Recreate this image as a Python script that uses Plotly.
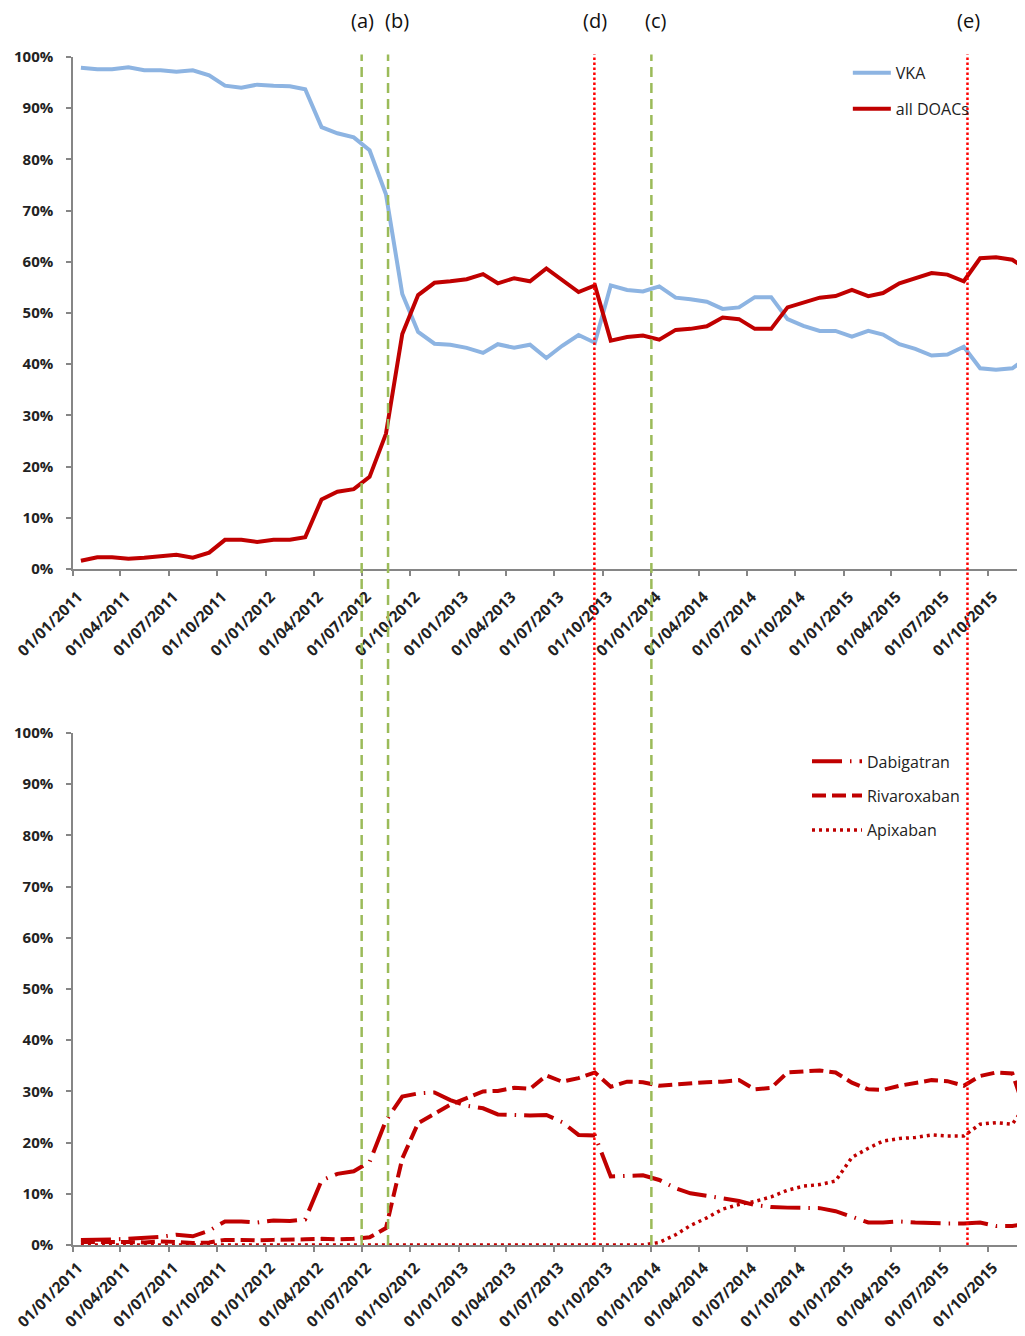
import pandas as pd
import plotly.graph_objects as go

# ---------------- data ----------------
month_starts = pd.date_range("2011-01-01", periods=60, freq="MS")
months = month_starts + pd.Timedelta(days=15)   # points sit mid-month

vka = [97.9, 97.6, 97.6, 98.0, 97.4, 97.4, 97.1, 97.4, 96.4, 94.4,
       94.0, 94.6, 94.4, 94.3, 93.7, 86.3, 85.1, 84.3, 81.8, 73.2,
       53.7, 46.3, 44.0, 43.8, 43.2, 42.2, 43.9, 43.2, 43.8, 41.2,
       43.6, 45.7, 44.2, 55.4, 54.5, 54.2, 55.2, 53.0, 52.7, 52.2,
       50.8, 51.1, 53.1, 53.1, 48.8, 47.5, 46.5, 46.5, 45.4, 46.5,
       45.8, 43.9, 43.0, 41.7, 41.9, 43.4, 39.2, 38.9, 39.2, 41.4]

doacs = [1.6, 2.3, 2.3, 2.0, 2.2, 2.6, 2.8, 2.2, 3.2, 5.7,
         5.7, 5.3, 5.7, 5.7, 6.2, 13.6, 15.1, 15.6, 18.0, 26.4,
         45.9, 53.5, 55.9, 56.2, 56.6, 57.6, 55.8, 56.8, 56.2, 58.7,
         56.4, 54.1, 55.4, 44.6, 45.3, 45.6, 44.8, 46.7, 46.9, 47.4,
         49.1, 48.8, 46.9, 46.9, 51.1, 52.1, 53.0, 53.3, 54.5, 53.3,
         53.9, 55.8, 56.7, 57.8, 57.5, 56.2, 60.7, 60.9, 60.4, 58.4]

dabigatran = [1.0, 1.0, 1.1, 1.2, 1.4, 1.6, 2.0, 1.7, 2.8, 4.6,
              4.6, 4.4, 4.8, 4.7, 5.0, 12.6, 13.9, 14.4, 16.2, 24.3,
              29.0, 29.6, 29.8, 28.3, 27.2, 26.7, 25.5, 25.3, 25.3, 25.4,
              24.0, 21.5, 21.4, 13.4, 13.5, 13.6, 12.7, 11.1, 10.1, 9.6,
              9.1, 8.6, 7.8, 7.4, 7.3, 7.2, 7.2, 6.6, 5.5, 4.4,
              4.4, 4.6, 4.4, 4.2, 4.2, 4.2, 4.4, 3.7, 3.7, 4.2]

rivaroxaban = [0.6, 0.6, 0.7, 0.6, 0.5, 0.7, 0.6, 0.4, 0.5, 1.0,
               1.0, 0.9, 1.0, 1.0, 1.1, 1.2, 1.1, 1.2, 1.5, 3.3,
               16.9, 23.8, 25.7, 27.4, 28.7, 30.0, 30.1, 30.7, 30.5, 33.1,
               31.9, 32.6, 33.7, 30.9, 31.9, 31.8, 31.1, 31.4, 31.5, 31.8,
               31.9, 32.2, 30.4, 30.7, 33.7, 33.9, 34.1, 33.7, 31.7, 30.4,
               30.3, 31.1, 31.7, 32.2, 32.0, 31.1, 33.0, 33.7, 33.5, 24.5]

apixaban = [0.0, 0.0, 0.0, 0.0, 0.0, 0.0, 0.0, 0.0, 0.0, 0.0,
            0.0, 0.0, 0.0, 0.0, 0.0, 0.0, 0.0, 0.0, 0.0, 0.0,
            0.0, 0.0, 0.0, 0.0, 0.0, 0.0, 0.0, 0.0, 0.0, 0.0,
            0.0, 0.0, 0.0, 0.0, 0.0, 0.0, 0.5, 2.0, 3.8, 5.3,
            7.0, 7.9, 8.5, 9.4, 10.7, 11.5, 11.8, 12.5, 17.1, 18.9,
            20.3, 20.8, 21.0, 21.5, 21.3, 21.3, 23.6, 23.9, 23.6, 28.0]

event_labels = ["(a)", "(b)", "(d)", "(c)", "(e)"]
event_dates = ["2012-07-01", "2012-08-20", "2013-09-15", "2014-01-01", "2015-08-23"]
event_kinds = ["green", "green", "red", "green", "red"]
label_shift = [1, 9, 1, 4, 1]

y_ticks = [0, 10, 20, 30, 40, 50, 60, 70, 80, 90, 100]
y_ticktext = ["0%", "10%", "20%", "30%", "40%", "50%", "60%", "70%", "80%", "90%", "100%"]
x_range = ["2011-01-01", "2015-12-10"]

# ---------------- styles ----------------
BLUE = "#8DB4E2"
DARKRED = "#C00000"
GREEN = "#9BBB59"
RED = "#FF0000"
AXIS = "#868686"
TXT = "#222222"

fig = go.Figure()

fig.add_trace(go.Scatter(x=months, y=vka, name="VKA", mode="lines",
                         line=dict(color=BLUE, width=4),
                         xaxis="x", yaxis="y", legend="legend", legendgroup="a"))
fig.add_trace(go.Scatter(x=months, y=doacs, name="all DOACs", mode="lines",
                         line=dict(color=DARKRED, width=4),
                         xaxis="x", yaxis="y", legend="legend", legendgroup="b"))

fig.add_trace(go.Scatter(x=months, y=dabigatran, name="Dabigatran", mode="lines",
                         line=dict(color=DARKRED, width=4, dash="30px,8px,1.5px,8px"),
                         xaxis="x2", yaxis="y2", legend="legend2", legendgroup="c"))
fig.add_trace(go.Scatter(x=months, y=rivaroxaban, name="Rivaroxaban", mode="lines",
                         line=dict(color=DARKRED, width=4, dash="14px,6px"),
                         xaxis="x2", yaxis="y2", legend="legend2", legendgroup="d"))
fig.add_trace(go.Scatter(x=months, y=apixaban, name="Apixaban", mode="lines",
                         line=dict(color=DARKRED, width=3.5, dash="3px,4px"),
                         xaxis="x2", yaxis="y2", legend="legend2", legendgroup="e"))

xtickfont = dict(family="Open Sans", size=15.5, color=TXT, weight="bold")
ytickfont = dict(family="Open Sans", size=15, color=TXT, weight="bold")

xaxis_common = dict(
    type="date", range=x_range, tick0="2011-01-01", dtick="M3",
    tickformat="%d/%m/%Y", tickangle=-45, tickfont=xtickfont,
    showline=True, linecolor=AXIS, linewidth=1.5,
    ticks="outside", ticklen=5, tickcolor=AXIS, tickwidth=1.5,
    showgrid=False, zeroline=False, ticklabelshift=5,
    ticklabeloverflow="allow", automargin=False,
)
yaxis_common = dict(
    range=[0, 100], tickvals=y_ticks, ticktext=y_ticktext, tickfont=ytickfont,
    showline=True, linecolor=AXIS, linewidth=1.5,
    ticks="outside", ticklen=5, tickcolor=AXIS, tickwidth=1.5,
    showgrid=False, zeroline=False, ticklabelstandoff=10, automargin=False,
)

top_dom = [0.56902, 1.0]
bot_dom = [0.0, 0.43098]

shapes = []
annotations = []
for lab, d, kind, sh in zip(event_labels, event_dates, event_kinds, label_shift):
    if kind == "green":
        ln = dict(color=GREEN, width=2.5, dash="10px,6px")
    else:
        ln = dict(color=RED, width=2.5, dash="2.5px,2.5px")
    shapes.append(dict(type="line", xref="x", yref="paper", x0=d, x1=d,
                       y0=0, y1=1.002, line=ln, layer="above"))
    annotations.append(dict(x=d, xref="x", y=1.031, yref="paper", text=lab,
                            showarrow=False, xshift=sh, yanchor="middle",
                            font=dict(family="Open Sans", size=20, color="#111111")))

legend_font = dict(family="Open Sans", size=16, color=TXT)

fig.update_layout(
    width=1017, height=1328,
    margin=dict(l=65, r=0, t=49, b=91, autoexpand=False),
    paper_bgcolor="white", plot_bgcolor="white",
    xaxis=dict(domain=[0, 1], anchor="y", ticklabelstandoff=6, **xaxis_common),
    yaxis=dict(domain=top_dom, anchor="x", **yaxis_common),
    xaxis2=dict(domain=[0, 1], anchor="y2", ticklabelstandoff=1, **xaxis_common),
    yaxis2=dict(domain=bot_dom, anchor="x2", **yaxis_common),
    legend=dict(x=0.8139, y=1.0009, xanchor="left", yanchor="top",
                font=legend_font, itemwidth=38, tracegroupgap=12,
                bgcolor="rgba(0,0,0,0)"),
    legend2=dict(x=0.771, y=0.4214, xanchor="left", yanchor="top",
                 font=legend_font, itemwidth=50, tracegroupgap=10.5,
                 bgcolor="rgba(0,0,0,0)"),
    shapes=shapes,
    annotations=annotations,
    showlegend=True,
)

fig.write_html("out.html")
